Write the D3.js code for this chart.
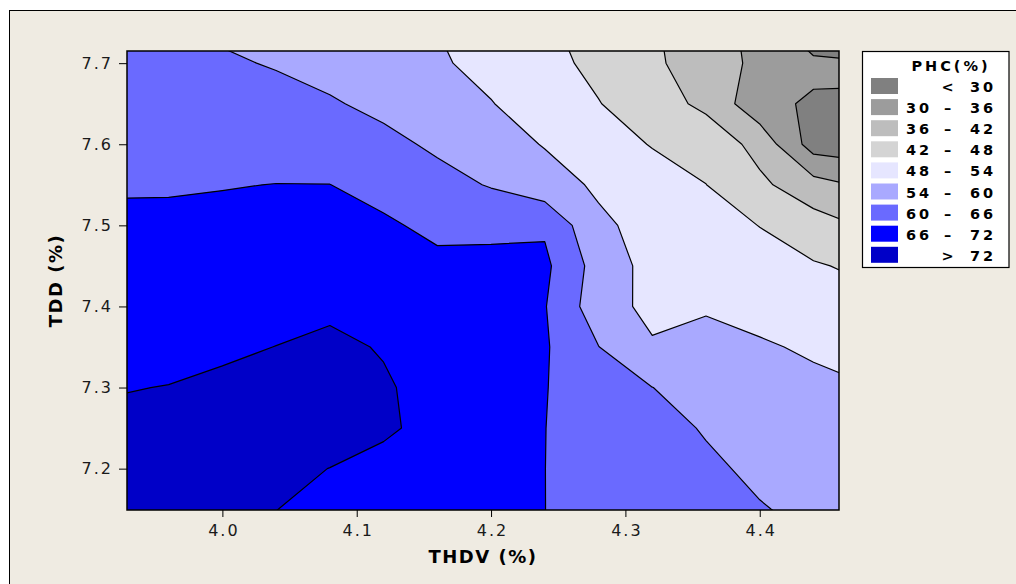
<!DOCTYPE html>
<html>
<head>
<meta charset="utf-8">
<script src="https://cdn.jsdelivr.net/npm/d3@7"></script>
<style>
body{margin:0;background:#fff}
text{font-family:"DejaVu Sans",Verdana,sans-serif}
</style>
</head>
<body>
<svg id="chart" width="1016" height="584"></svg>
<script>
const thdv = [3.92, 3.96, 4.00, 4.04, 4.08, 4.12, 4.16, 4.20, 4.24, 4.28, 4.32, 4.36, 4.40, 4.44, 4.48]
const tdd = [7.75, 7.70, 7.65, 7.60, 7.55, 7.50, 7.45, 7.40, 7.35, 7.30, 7.25, 7.20, 7.15, 7.10]
const phc = [
  [60.9, 60.1, 58.85, 57.6, 56.4, 55.2, 53.85, 51.3, 48.7, 45.7, 42.5, 38.9, 33.9, 22.0, 20.0],
  [61.8, 61.4, 60.7, 59.6, 57.9, 56.3, 54.66, 52.4, 49.7, 46.6, 43.1, 38.8, 34.7, 31.8, 30.6],
  [63.0, 62.8, 62.4, 61.8, 60.6, 58.5, 56.3, 54.2, 51.25, 48.2, 44.8, 40.6, 32.0, 29.0, 29.6],
  [64.3, 64.2, 64.1, 63.9, 63.3, 61.6, 59.0, 56.4, 53.7, 50.6, 47.7, 46.0, 40.0, 27.3, 26.5],
  [65.6, 65.6, 65.8, 66.07, 66.04, 64.3, 62.0, 59.6, 56.3, 53.2, 50.6, 48.05, 43.2, 38.3, 35.0],
  [66.8, 66.9, 67.2, 67.5, 67.7, 66.75, 64.8, 64.6, 65.2, 55.0, 52.2, 50.1, 47.9, 44.6, 41.3],
  [68.1, 68.2, 68.6, 69.1, 69.5, 68.3, 67.2, 67.6, 67.2, 57.5, 52.0, 51.6, 50.0, 48.5, 46.9],
  [69.4, 69.45, 69.9, 70.6, 71.2, 69.8, 68.6, 67.4, 66.3, 56.6, 52.5, 53.6, 52.5, 50.9, 49.5],
  [70.6, 70.7, 71.3, 72.05, 72.9, 71.7, 69.76, 68.0, 66.6, 60.1, 54.6, 55.3, 54.5, 53.4, 51.9],
  [71.8, 72.1, 72.8, 73.3, 73.6, 72.5, 70.4, 68.3, 66.2, 63.1, 60.05, 57.6, 56.0, 55.0, 54.2],
  [72.8, 73.2, 73.6, 73.9, 73.9, 72.75, 70.5, 68.3, 66.05, 63.9, 61.8, 59.6, 57.5, 56.2, 55.3],
  [73.3, 73.6, 73.6, 73.0, 71.95, 70.5, 69.0, 67.5, 66.02, 64.3, 62.6, 60.9, 59.0, 57.5, 56.5],
  [73.5, 73.4, 72.9, 72.05, 70.8, 69.6, 68.4, 67.2, 66.02, 64.6, 63.2, 61.8, 60.3, 58.9, 57.5],
  [73.7, 73.2, 72.2, 71.1, 69.65, 68.7, 67.8, 66.9, 66.02, 64.9, 63.8, 62.7, 61.6, 60.3, 58.5]
]
// contour levels and band colours (lowest band first)
const levels = [30, 36, 42, 48, 54, 60, 66, 72]
const bandColors = ["#808080", "#9c9c9c", "#bdbdbd", "#d4d4d4", "#e6e6ff", "#a9a9ff", "#6a6aff", "#0000ff", "#0000c8"]
const bandLabels = [["", "<", "30"], ["30", "–", "36"], ["36", "–", "42"], ["42", "–", "48"],
                    ["48", "–", "54"], ["54", "–", "60"], ["60", "–", "66"], ["66", "–", "72"], ["", ">", "72"]]
const xTicks = [4.0, 4.1, 4.2, 4.3, 4.4]
const yTicks = [7.2, 7.3, 7.4, 7.5, 7.6, 7.7]

const svg = d3.select("#chart")
const pLeft = 127, pRight = 839, pTop = 51, pBottom = 510

// outer panel
svg.append("rect").attr("x", 9.5).attr("y", 10.5).attr("width", 1100).attr("height", 700)
   .attr("fill", "#efebe2").attr("stroke", "#000").attr("stroke-width", 1)

const xScale = d3.scaleLinear().domain([3.929, 4.459]).range([pLeft, pRight])
const yScale = d3.scaleLinear().domain([7.149, 7.715]).range([pBottom, pTop])

svg.append("clipPath").attr("id", "plotclip")
   .append("rect").attr("x", pLeft).attr("y", pTop).attr("width", pRight - pLeft).attr("height", pBottom - pTop)

const plot = svg.append("g").attr("clip-path", "url(#plotclip)")
plot.append("rect").attr("x", pLeft).attr("y", pTop).attr("width", pRight - pLeft).attr("height", pBottom - pTop)
    .attr("fill", bandColors[0])

// contours on the grid, grid coords -> data -> pixels
const nx = thdv.length, ny = tdd.length
const contours = d3.contours().size([nx, ny]).thresholds(levels)(phc.flat())
const stepX = thdv[1] - thdv[0], stepY = tdd[1] - tdd[0]
const toPixels = d3.geoTransform({
    point: function(gx, gy) {
        this.stream.point(xScale(thdv[0] + (gx - 0.5) * stepX), yScale(tdd[0] + (gy - 0.5) * stepY))
    }
})
const path = d3.geoPath(toPixels)

plot.selectAll(".band")
    .data(contours)
    .join("path")
    .attr("class", "band")
    .attr("d", path)
    .attr("fill", (d, i) => bandColors[i + 1])
    .attr("stroke", "#000")
    .attr("stroke-width", 1.2)
    .attr("stroke-linejoin", "round")

// plot frame
svg.append("rect").attr("x", pLeft).attr("y", pTop).attr("width", pRight - pLeft).attr("height", pBottom - pTop)
   .attr("fill", "none").attr("stroke", "#000").attr("stroke-width", 1.5)

// axes
const xAxis = d3.axisBottom(xScale).tickValues(xTicks).tickFormat(d3.format(".1f"))
    .tickSizeInner(7).tickSizeOuter(0).tickPadding(8)
const yAxis = d3.axisLeft(yScale).tickValues(yTicks).tickFormat(d3.format(".1f"))
    .tickSizeInner(8).tickSizeOuter(0).tickPadding(6)

const gx = svg.append("g").attr("transform", `translate(0,${pBottom})`).call(xAxis)
const gy = svg.append("g").attr("transform", `translate(${pLeft},0)`).call(yAxis)
for (const g of [gx, gy]) {
    g.select(".domain").remove()
    g.selectAll("line").attr("stroke", "#000")
    g.selectAll("text").attr("font-family", "DejaVu Sans, Verdana, sans-serif")
     .attr("font-size", 16).attr("letter-spacing", 2).attr("fill", "#1a1a1a")
}
gx.selectAll("text").attr("dx", 1)

// axis titles
svg.append("text").attr("x", (pLeft + pRight) / 2).attr("y", 563)
   .attr("text-anchor", "middle").attr("font-weight", "bold").attr("font-size", 18)
   .attr("letter-spacing", 1.5).text("THDV (%)")
svg.append("text").attr("transform", `translate(62,${(pTop + pBottom) / 2}) rotate(-90)`)
   .attr("text-anchor", "middle").attr("font-weight", "bold").attr("font-size", 18)
   .attr("letter-spacing", 1.5).text("TDD (%)")

// legend
const legend = svg.append("g")
legend.append("rect").attr("x", 862.5).attr("y", 51.5).attr("width", 146.5).attr("height", 216)
      .attr("fill", "#fff").attr("stroke", "#000").attr("stroke-width", 1.2)
legend.append("text").attr("x", 951).attr("y", 71).attr("text-anchor", "middle")
      .attr("font-weight", "bold").attr("font-size", 14.5).attr("letter-spacing", 3)
      .text("PHC(%)")

const rows = legend.selectAll(".item")
    .data(bandLabels)
    .join("g")
    .attr("class", "item")
    .attr("transform", (d, i) => `translate(0,${78 + i * 21.1})`)
rows.append("rect").attr("x", 871).attr("y", 0).attr("width", 27).attr("height", 16)
    .attr("fill", (d, i) => bandColors[i])
const lab = (sel, x, k, anchor) => sel.append("text").attr("x", x).attr("y", 14)
    .attr("text-anchor", anchor).attr("font-weight", "bold").attr("font-size", 14.5)
    .attr("letter-spacing", 3).text(d => d[k])
lab(rows, 906, 0, "start")
lab(rows, 949, 1, "middle")
lab(rows, 970, 2, "start")
</script>
</body>
</html>
